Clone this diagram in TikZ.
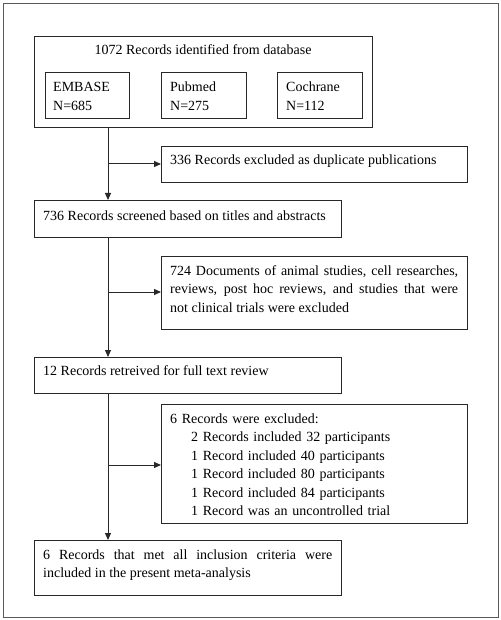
\documentclass[tikz,border=0pt]{standalone}
\usepackage{fontspec}
\setmainfont{Liberation Serif}
\usetikzlibrary{arrows.meta}
\definecolor{linec}{RGB}{40,40,40}
\definecolor{framec}{RGB}{90,90,90}
\tikzset{
  box/.style={draw=linec, line width=1pt, inner sep=0pt, anchor=north west},
  txt/.style={inner sep=0pt, anchor=base west, font=\fontsize{14}{18.5}\selectfont, text=black},
  jtxt/.style={txt, align=justify},
  ltxt/.style={txt, align=left},
  arr/.style={draw=linec, line width=1pt, -{Triangle[length=7pt,width=6pt]}},
}
\begin{document}
\begin{tikzpicture}[x=1pt,y=-1pt]
\useasboundingbox (0,0) rectangle (500,620);
\node[draw=framec, line width=1.2pt, inner sep=0pt, anchor=north west, minimum width=495pt, minimum height=614pt] (frame) at (3,3) {};
% top box
\node[box, minimum width=338pt, minimum height=91pt] (db) at (34,36) {};
\node[txt, anchor=base] (dbt) at (203,54.5) {1072 Records identified from database};
\node[box, minimum width=84pt, minimum height=46pt] (em) at (45,72) {};
\node[box, minimum width=85pt, minimum height=46pt] (pm) at (161,72) {};
\node[box, minimum width=85pt, minimum height=46pt] (co) at (277,72) {};
\node[ltxt, text width=75pt] (emt) at (53,92) {EMBASE\\N=685};
\node[ltxt, text width=75pt] (pmt) at (170,92) {Pubmed\\N=275};
\node[ltxt, text width=75pt] (cot) at (286,92) {Cochrane\\N=112};
% duplicate
\node[box, minimum width=306pt, minimum height=36pt] (dup) at (161,146) {};
\node[txt] (dupt) at (170,165) {336 Records excluded as duplicate publications};
% screened
\node[box, minimum width=307pt, minimum height=37pt] (scr) at (34,200) {};
\node[txt] (scrt) at (43,220) {736 Records screened based on titles and abstracts};
% excluded 724
\node[box, minimum width=306pt, minimum height=73pt] (ex1) at (161,256) {};
\node[jtxt, text width=288pt] (ex1t) at (170,275) {724 Documents of animal studies, cell researches,\linebreak reviews, post hoc reviews, and studies that were\linebreak not clinical trials were excluded};
% full text
\node[box, minimum width=307pt, minimum height=36pt] (ft) at (34,357) {};
\node[txt] (ftt) at (43,375) {12 Records retreived for full text review};
% excluded 6
\node[box, minimum width=306pt, minimum height=119pt] (ex2) at (161,404) {};
\node[ltxt, text width=290pt] (ex2t) at (170,423) {6 Records were excluded:\\
\hspace*{21pt}2 Records included 32 participants\\
\hspace*{21pt}1 Record included 40 participants\\
\hspace*{21pt}1 Record included 80 participants\\
\hspace*{21pt}1 Record included 84 participants\\
\hspace*{21pt}1 Record was an uncontrolled trial};
% final
\node[box, minimum width=307pt, minimum height=55pt] (fin) at (34,540) {};
\node[jtxt, text width=289pt] (fint) at (43,559) {6 Records that met all inclusion criteria were\linebreak included in the present meta-analysis};
% connectors
\coordinate (c1) at (108,164);
\coordinate (c2) at (108,292);
\coordinate (c3) at (108,465);
\draw[arr] (db.south -| c1) -- (scr.north -| c1);
\draw[arr] (c1) -- (c1 -| dup.west);
\draw[arr] (scr.south -| c2) -- (ft.north -| c2);
\draw[arr] (c2) -- (c2 -| ex1.west);
\draw[arr] (ft.south -| c3) -- (fin.north -| c3);
\draw[arr] (c3) -- (c3 -| ex2.west);
\end{tikzpicture}
\end{document}
